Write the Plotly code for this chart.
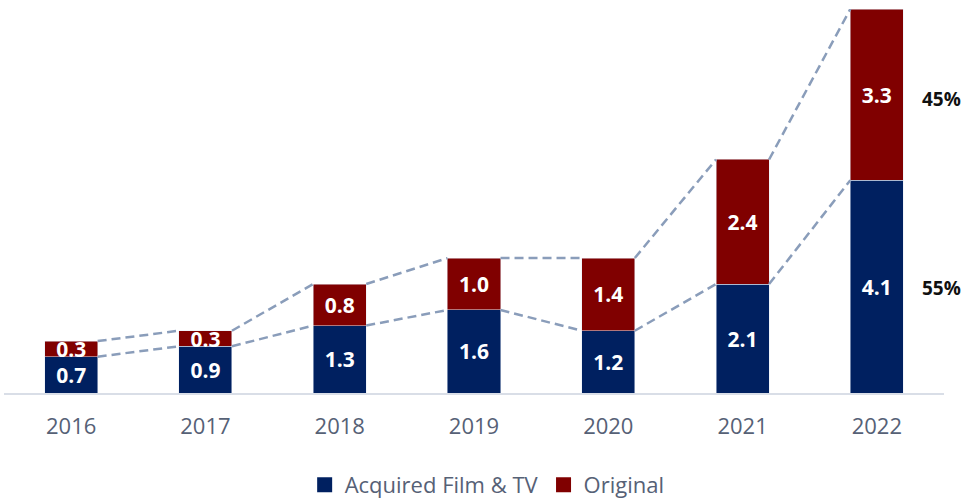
import plotly.graph_objects as go

years = ["2016", "2017", "2018", "2019", "2020", "2021", "2022"]
acquired = [0.7, 0.9, 1.3, 1.6, 1.2, 2.1, 4.1]
original = [0.3, 0.3, 0.8, 1.0, 1.4, 2.4, 3.3]

BLUE = "#002060"
RED = "#800000"
LINE = "#8A9DBA"
TXT = "#566176"
FONT = "Open Sans"
BAR_W = 0.395

xs = list(range(len(years)))
totals = [a + o for a, o in zip(acquired, original)]

fig = go.Figure()

# connector (series) lines between bar edges
def connector(tops):
    lx, ly = [], []
    for i in range(len(tops) - 1):
        lx += [xs[i] + BAR_W / 2, xs[i + 1] - BAR_W / 2, None]
        ly += [tops[i], tops[i + 1], None]
    return lx, ly

for tops in (totals, acquired):
    lx, ly = connector(tops)
    fig.add_trace(go.Scatter(x=lx, y=ly, mode="lines", showlegend=False,
                             hoverinfo="skip",
                             line=dict(color=LINE, width=2.5, dash="9px,5px")))

fig.add_trace(go.Bar(x=xs, y=acquired, width=BAR_W, marker_color=BLUE,
                     name="Acquired Film & TV", showlegend=False,
                     text=[f"{v:.1f}" for v in acquired], textposition="inside",
                     insidetextanchor="middle", constraintext="none",
                     textfont=dict(family=FONT, size=21, color="white", weight="bold")))
fig.add_trace(go.Bar(x=xs, y=original, width=BAR_W, marker_color=RED,
                     name="Original", showlegend=False,
                     text=[f"{v:.1f}" for v in original], textposition="inside",
                     insidetextanchor="middle", constraintext="none",
                     textfont=dict(family=FONT, size=21, color="white", weight="bold")))

# legend entries
for name, col in (("Acquired Film & TV", BLUE), ("Original", RED)):
    fig.add_trace(go.Scatter(x=[None], y=[None], mode="markers", name=name,
                             marker=dict(symbol="square", size=15, color=col)))

# share annotations for last year
last = len(years) - 1
share_orig = original[last] / totals[last]
share_acq = acquired[last] / totals[last]
fig.add_annotation(x=last + 0.48, y=5.66, xref="x", yref="y", showarrow=False,
                   text=f"{share_orig:.0%}", xanchor="center",
                   font=dict(family=FONT, size=19, color="#111111", weight="bold"))
fig.add_annotation(x=last + 0.48, y=2.02, xref="x", yref="y", showarrow=False,
                   text=f"{share_acq:.0%}", xanchor="center",
                   font=dict(family=FONT, size=19, color="#111111", weight="bold"))

fig.update_layout(
    barmode="stack",
    width=964, height=498,
    margin=dict(l=4, r=20, t=9, b=105, autoexpand=False),
    plot_bgcolor="white", paper_bgcolor="white",
    uniformtext=dict(mode="show", minsize=21),
    font=dict(family=FONT, color=TXT),
    legend=dict(orientation="h", traceorder="normal",
                x=0.514, xanchor="center", xref="paper",
                y=13 / 498, yanchor="middle", yref="container",
                font=dict(family=FONT, size=22, color=TXT),
                itemsizing="trace"),
    xaxis=dict(range=[-0.5, len(years) - 0.5], tickvals=xs, ticktext=years,
               showgrid=False, zeroline=False, showline=True,
               linecolor="#D9DEE7", linewidth=2, ticks="",
               ticklabelstandoff=13,
               tickfont=dict(family=FONT, size=22, color=TXT)),
    yaxis=dict(range=[0, 7.4], visible=False, showgrid=False, zeroline=False),
)

fig.write_html("out.html", include_plotlyjs=True, full_html=True,
               config={"displayModeBar": False},
               default_width="964px", default_height="498px",
               post_script="document.body.style.margin='0';")
